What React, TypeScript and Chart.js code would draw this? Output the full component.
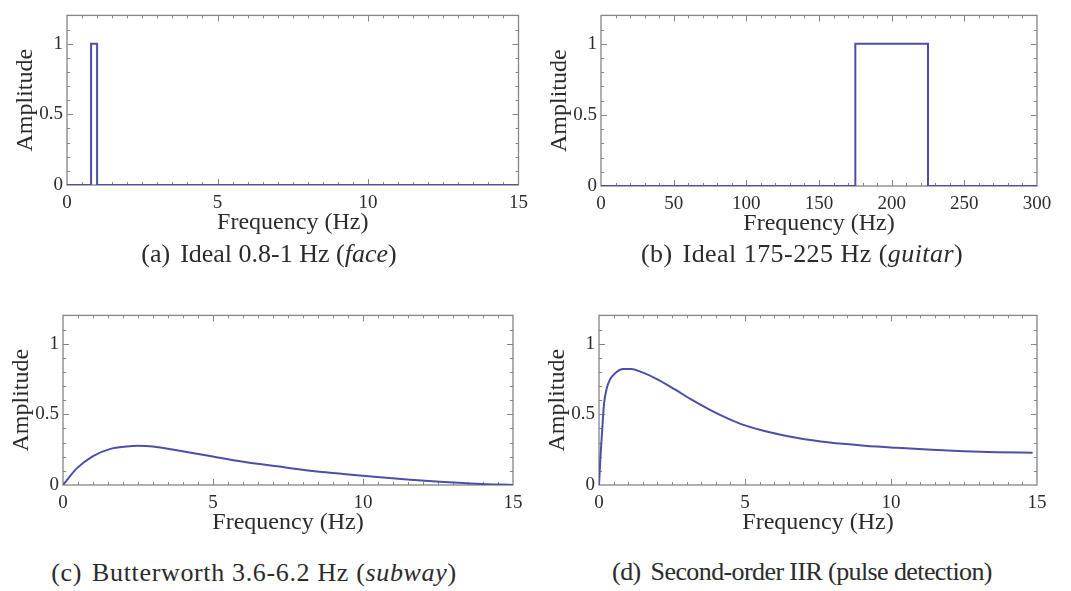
import React, { useEffect, useRef } from "react";
import { Chart, registerables } from "chart.js";

Chart.register(...registerables);

// (a) ideal band-pass, 0.8–1 Hz
const faceFreq = [0, 0.8, 0.8, 1.0, 1.0, 15];
const faceAmp = [0, 0, 1, 1, 0, 0];

// (b) ideal band-pass, 175–225 Hz
const guitarFreq = [0, 175, 175, 225, 225, 300];
const guitarAmp = [0, 0, 1, 1, 0, 0];

// (c) Butterworth 3.6–6.2 Hz magnitude response
const subwayFreq = [0, 0.45, 1.0, 1.56, 2.12, 2.5, 3.0, 3.79, 4.9, 6.01, 7.13, 8.24, 9.35, 10.47, 11.58, 12.7, 13.8, 15];
const subwayAmp = [0, 0.116, 0.205, 0.254, 0.272, 0.277, 0.272, 0.246, 0.205, 0.165, 0.132, 0.1, 0.078, 0.056, 0.038, 0.022, 0.009, 0];

// (d) second-order IIR magnitude response
const pulseFreq = [0, 0.05, 0.11, 0.17, 0.26, 0.38, 0.55, 0.83, 1.1, 1.44, 2.0, 2.6, 3.2, 3.8, 4.4, 5.0, 5.7, 6.8, 7.9, 9.1, 10.2, 11.4, 12.5, 13.6, 14.85];
const pulseAmp = [0, 0.2, 0.39, 0.57, 0.68, 0.748, 0.79, 0.82, 0.82, 0.8, 0.748, 0.676, 0.6, 0.532, 0.472, 0.422, 0.38, 0.332, 0.3, 0.278, 0.263, 0.249, 0.239, 0.232, 0.228];

// Axis tick labels
const hzTicks15 = [0, 5, 10, 15];
const hzTicks300 = [0, 50, 100, 150, 200, 250, 300];
const ampTicks = [0, 0.5, 1];

const X_TITLE = "Frequency (Hz)";
const Y_TITLE = "Amplitude";

const LINE_COLOR = "#4b4fa6";
const FRAME_COLOR = "#858585";
const TEXT_COLOR = "#2b2b2b";
const SERIF = "'Liberation Serif', 'Times New Roman', serif";

const TICK_FONT = 19;
const TITLE_FONT = 24;

type Box = { x: number; y: number; w: number; h: number };
type Area = { l: number; t: number; r: number; b: number };

interface PanelSpec {
  freq: number[];
  amp: number[];
  smooth: boolean;
  xMax: number;
  xTicks: number[];
  xMinor: number;
  canvas: Box;
  plot: Area;
}

const Y_MAX = 1.2;
const Y_MINOR = 0.1;

const panels: PanelSpec[] = [
  {
    freq: faceFreq, amp: faceAmp, smooth: false, xMax: 15, xTicks: hzTicks15, xMinor: 0.5,
    canvas: { x: 0, y: 0, w: 535, h: 240 }, plot: { l: 67, t: 6, r: 519, b: 185 },
  },
  {
    freq: guitarFreq, amp: guitarAmp, smooth: false, xMax: 300, xTicks: hzTicks300, xMinor: 10,
    canvas: { x: 535, y: 0, w: 536, h: 240 }, plot: { l: 601, t: 7, r: 1037, b: 186 },
  },
  {
    freq: subwayFreq, amp: subwayAmp, smooth: true, xMax: 15, xTicks: hzTicks15, xMinor: 0.5,
    canvas: { x: 0, y: 300, w: 535, h: 240 }, plot: { l: 63, t: 306, r: 513, b: 485 },
  },
  {
    freq: pulseFreq, amp: pulseAmp, smooth: true, xMax: 15, xTicks: hzTicks15, xMinor: 0.5,
    canvas: { x: 535, y: 300, w: 536, h: 240 }, plot: { l: 599, t: 306, r: 1037, b: 485 },
  },
];

// Frame around the plot area with inward major/minor ticks on all four sides
function framePlugin(spec: PanelSpec) {
  return {
    id: "frameTicks",
    beforeDatasetsDraw(chart: any) {
      const { ctx, chartArea: a, scales } = chart;
      const xs = scales.x;
      const ys = scales.y;
      ctx.save();
      ctx.strokeStyle = FRAME_COLOR;
      ctx.lineWidth = 1.3;
      ctx.strokeRect(a.left, a.top, a.right - a.left, a.bottom - a.top);
      ctx.lineWidth = 1;
      ctx.beginPath();
      const nx = Math.round(spec.xMax / spec.xMinor);
      for (let i = 1; i < nx; i++) {
        const v = i * spec.xMinor;
        const major = spec.xTicks.some((t) => Math.abs(t - v) < 1e-9);
        const len = major ? 6 : 3;
        const px = Math.round(xs.getPixelForValue(v)) + 0.5;
        ctx.moveTo(px, a.bottom);
        ctx.lineTo(px, a.bottom - len);
        ctx.moveTo(px, a.top);
        ctx.lineTo(px, a.top + len);
      }
      const ny = Math.round(Y_MAX / Y_MINOR);
      for (let i = 1; i < ny; i++) {
        const v = i * Y_MINOR;
        const major = ampTicks.some((t) => Math.abs(t - v) < 1e-9);
        const len = major ? 6 : 3;
        const py = Math.round(ys.getPixelForValue(v)) + 0.5;
        ctx.moveTo(a.left, py);
        ctx.lineTo(a.left + len, py);
        ctx.moveTo(a.right, py);
        ctx.lineTo(a.right - len, py);
      }
      ctx.stroke();
      ctx.restore();
    },
  };
}

function Panel({ spec }: { spec: PanelSpec }) {
  const ref = useRef<HTMLCanvasElement | null>(null);

  useEffect(() => {
    if (!ref.current) return;
    const { canvas, plot } = spec;
    const left = plot.l - canvas.x;
    const top = plot.t - canvas.y;
    const right = plot.r - canvas.x;
    const bottom = plot.b - canvas.y;
    const xAxisH = canvas.h - bottom;
    const titleHalf = (TITLE_FONT * 1.2) / 2;
    const xTitlePad = xAxisH - 37.5 - titleHalf;
    const yTitlePad = left - 41 - titleHalf;

    const chart = new Chart(ref.current, {
      type: "line",
      data: {
        datasets: [
          {
            data: spec.freq.map((f, i) => ({ x: f, y: spec.amp[i] })),
            borderColor: LINE_COLOR,
            borderWidth: 2,
            pointRadius: 0,
            fill: false,
            tension: 0,
            cubicInterpolationMode: spec.smooth ? "monotone" : "default",
          },
        ],
      },
      options: {
        animation: false,
        responsive: false,
        maintainAspectRatio: false,
        events: [],
        layout: { padding: { left: 0, top, right: canvas.w - right, bottom: 0 } },
        plugins: {
          legend: { display: false },
          tooltip: { enabled: false },
        },
        scales: {
          x: {
            type: "linear",
            min: 0,
            max: spec.xMax,
            grid: { display: false, drawTicks: false },
            border: { display: false },
            afterBuildTicks: (s: any) => {
              s.ticks = spec.xTicks.map((v) => ({ value: v }));
            },
            afterFit: (s: any) => {
              s.height = xAxisH;
            },
            ticks: {
              autoSkip: false,
              maxRotation: 0,
              padding: 7,
              color: TEXT_COLOR,
              font: { family: SERIF, size: TICK_FONT },
              callback: (v: any) => String(v),
            },
            title: {
              display: true,
              text: X_TITLE,
              color: TEXT_COLOR,
              font: { family: SERIF, size: TITLE_FONT },
              padding: { top: 0, bottom: xTitlePad },
            },
          },
          y: {
            type: "linear",
            min: 0,
            max: Y_MAX,
            grid: { display: false, drawTicks: false },
            border: { display: false },
            afterBuildTicks: (s: any) => {
              s.ticks = ampTicks.map((v) => ({ value: v }));
            },
            afterFit: (s: any) => {
              s.width = left;
            },
            ticks: {
              autoSkip: false,
              padding: 4,
              color: TEXT_COLOR,
              font: { family: SERIF, size: TICK_FONT },
              callback: (v: any) => String(v),
            },
            title: {
              display: true,
              text: Y_TITLE,
              color: TEXT_COLOR,
              font: { family: SERIF, size: TITLE_FONT },
              padding: { top: yTitlePad, bottom: 0 },
            },
          },
        },
      } as any,
      plugins: [framePlugin(spec)],
    });
    return () => chart.destroy();
  }, [spec]);

  const { canvas } = spec;
  return (
    <canvas
      ref={ref}
      width={canvas.w}
      height={canvas.h}
      style={{ position: "absolute", left: canvas.x, top: canvas.y, width: canvas.w, height: canvas.h }}
    />
  );
}

const CAPTION_FONT = 26;

function Caption({
  cx,
  cy,
  tag,
  spacing,
  children,
}: {
  cx: number;
  cy: number;
  tag: string;
  spacing: number;
  children: React.ReactNode;
}) {
  return (
    <div
      style={{
        position: "absolute",
        left: cx - 300,
        top: cy - 15,
        width: 600,
        lineHeight: "30px",
        textAlign: "center",
        fontFamily: SERIF,
        fontSize: CAPTION_FONT,
        letterSpacing: spacing,
        color: TEXT_COLOR,
        whiteSpace: "nowrap",
      }}
    >
      <span style={{ marginRight: 10 }}>{tag}</span>
      {children}
    </div>
  );
}

export default function App() {
  return (
    <div style={{ position: "absolute", left: 0, top: 0, width: 1071, height: 591, background: "#fff", overflow: "hidden" }}>
      {panels.map((p, i) => (
        <Panel key={i} spec={p} />
      ))}
      <Caption cx={269} cy={254} tag="(a)" spacing={0}>
        Ideal 0.8-1 Hz (<i>face</i>)
      </Caption>
      <Caption cx={802} cy={254} tag="(b)" spacing={0.45}>
        Ideal 175-225 Hz (<i>guitar</i>)
      </Caption>
      <Caption cx={254} cy={573} tag="(c)" spacing={0.65}>
        Butterworth 3.6-6.2 Hz (<i>subway</i>)
      </Caption>
      <Caption cx={802} cy={572} tag="(d)" spacing={-0.6}>
        Second-order IIR (pulse detection)
      </Caption>
    </div>
  );
}
